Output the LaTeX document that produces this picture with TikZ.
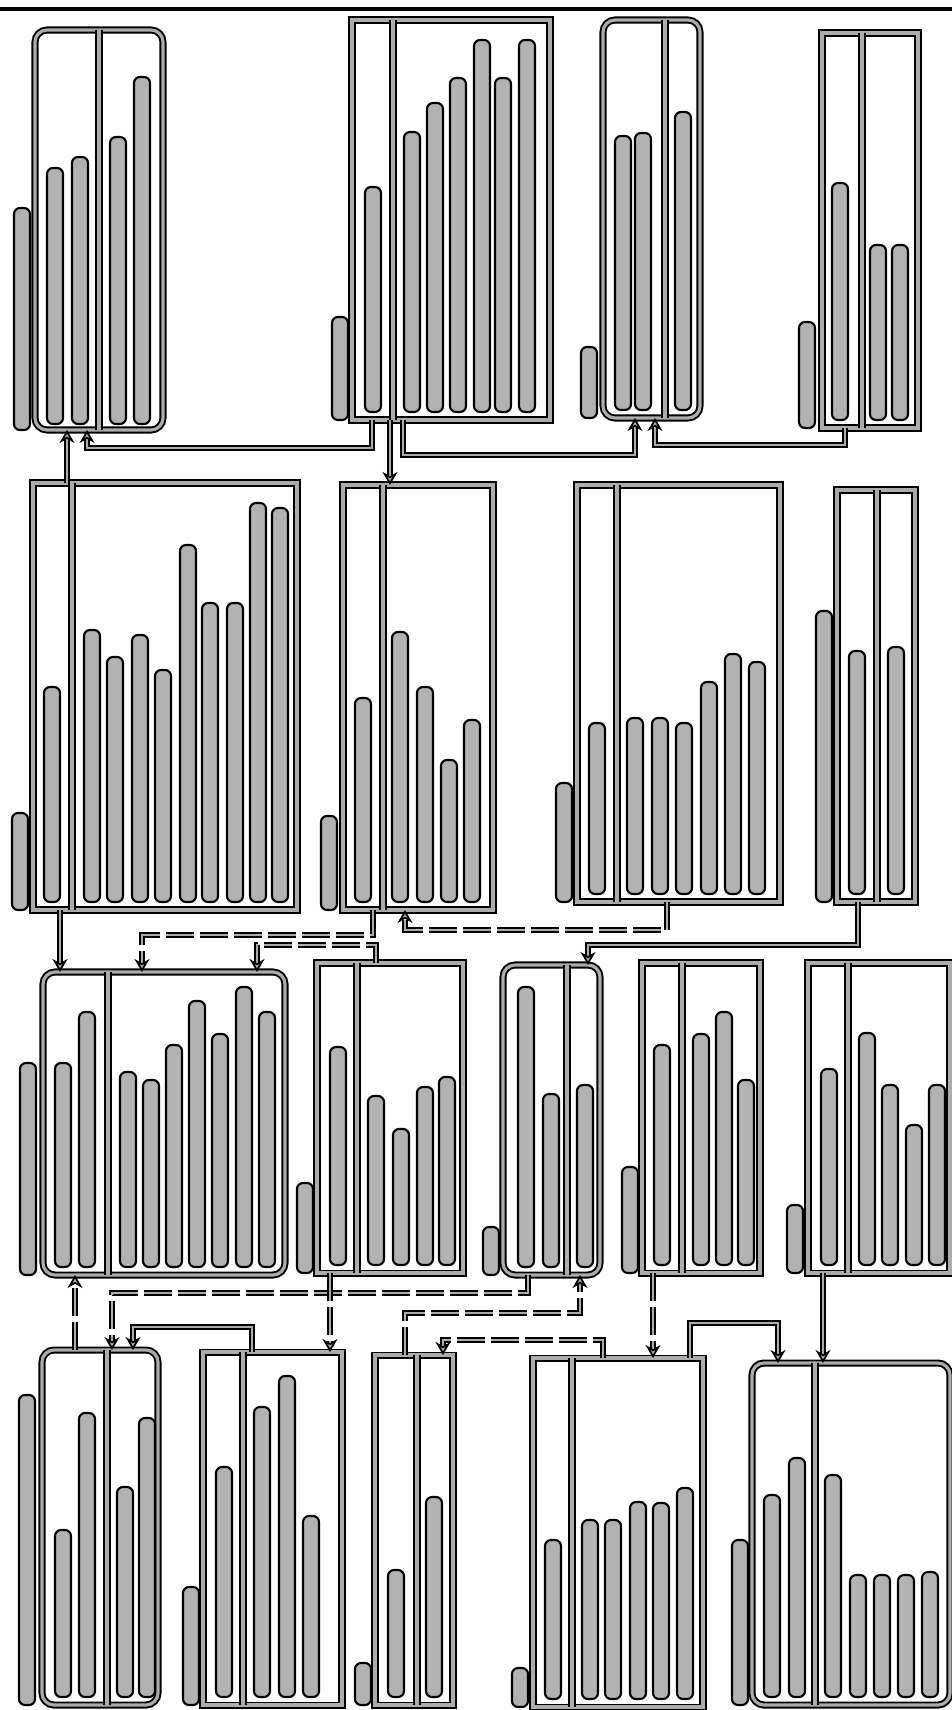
\documentclass[tikz,border=0pt]{standalone}
\usetikzlibrary{arrows.meta,fit}

\tikzset{
  cls/.style={draw=black, line width=0.55pt, double=gray!65, double distance=0.9pt, inner sep=0pt, outer sep=0pt},
  rcls/.style={cls, rounded corners=1.2mm},
  assoc/.style={draw=black, line width=0.5pt, double=gray!65, double distance=0.6pt, -{Stealth[length=1.3mm, width=1.5mm, fill=gray!65]}},
  dep/.style={assoc, dash pattern=on 2.8mm off 0.6mm},
  blob/.style={draw=black, line width=0.6pt, fill=gray!60, rounded corners=0.6mm}
}

% one rotated text line: bottom y, then x/top pairs
\newcommand{\attrs}[2]{\foreach \x/\t in {#2} \draw[blob] (\x-8,#1) rectangle (\x+8,\t);}

\begin{document}
\begin{tikzpicture}[x=0.1mm, y=-0.1mm]
  \useasboundingbox (0,0) rectangle (952,1710);
  \draw[line width=0.9pt] (0,9) -- (952,9);% top line

  %	Row 1
  \node[rcls, fit={(35,30) (163,430)}] (A) {};
  \draw[cls] (A.north -| 99,0) -- (A.south -| 99,0);
  \attrs{430}{22/208}
  \attrs{424}{55/168, 80/157, 118/137, 142/77}

  \node[cls, fit={(352,20) (550,420)}] (B) {};
  \draw[cls] (B.north -| 393,0) -- (B.south -| 393,0);
  \attrs{420}{340/317}
  \attrs{412}{373/187, 412/132, 435/103, 458/78, 482/40, 503/78, 527/40}

  \node[rcls, fit={(603,20) (700,418)}] (C) {};
  \draw[cls] (C.north -| 665,0) -- (C.south -| 665,0);
  \attrs{418}{589/347}
  \attrs{410}{623/136, 643/133, 683/112}

  \node[cls, fit={(822,33) (918,428)}] (D) {};
  \draw[cls] (D.north -| 862,0) -- (D.south -| 862,0);
  \attrs{428}{807/322}
  \attrs{420}{840/183, 878/245, 900/245}

  %	Row 2
  \node[cls, fit={(33,483) (297,910)}] (E) {};
  \draw[cls] (E.north -| 72,0) -- (E.south -| 72,0);
  \attrs{910}{20/813}
  \attrs{902}{52/687, 92/630, 115/657, 140/635, 163/670, 188/545, 210/603, 235/603, 258/503, 280/508}

  \node[cls, fit={(343,485) (493,910)}] (F) {};
  \draw[cls] (F.north -| 383,0) -- (F.south -| 383,0);
  \attrs{910}{329/816}
  \attrs{902}{363/698, 400/632, 425/687, 449/760, 472/720}

  \node[cls, fit={(577,485) (780,902)}] (G) {};
  \draw[cls] (G.north -| 617,0) -- (G.south -| 617,0);
  \attrs{902}{564/783}
  \attrs{894}{597/723, 635/718, 660/718, 684/723, 709/682, 733/654, 757/662}

  \node[cls, fit={(837,490) (915,902)}] (H) {};
  \draw[cls] (H.north -| 877,0) -- (H.south -| 877,0);
  \attrs{902}{824/611}
  \attrs{894}{857/651, 896/647}

  %	Row 3
  \node[rcls, fit={(43,972) (285,1275)}] (I) {};
  \draw[cls] (I.north -| 108,0) -- (I.south -| 108,0);
  \attrs{1275}{28/1063}
  \attrs{1267}{63/1063, 87/1012, 128/1072, 151/1080, 174/1045, 197/1001, 220/1034, 244/987, 267/1012}

  \node[cls, fit={(317,963) (463,1273)}] (J) {};
  \draw[cls] (J.north -| 357,0) -- (J.south -| 357,0);
  \attrs{1273}{305/1183}
  \attrs{1265}{338/1047, 376/1096, 401/1129, 425/1087, 447/1077}

  \node[rcls, fit={(503,965) (600,1275)}] (K) {};
  \draw[cls] (K.north -| 567,0) -- (K.south -| 567,0);
  \attrs{1275}{491/1227}
  \attrs{1267}{526/987, 551/1094, 585/1085}

  \node[cls, fit={(642,963) (760,1273)}] (L) {};
  \draw[cls] (L.north -| 682,0) -- (L.south -| 682,0);
  \attrs{1273}{630/1167}
  \attrs{1265}{662/1045, 701/1034, 724/1012, 746/1080}

  \node[cls, fit={(808,963) (950,1273)}] (M) {};
  \draw[cls] (M.north -| 848,0) -- (M.south -| 848,0);
  \attrs{1273}{795/1205}
  \attrs{1265}{829/1069, 867/1033, 890/1085, 914/1125, 937/1085}

  %	Row 4
  \node[rcls, fit={(42,1350) (158,1705)}] (N) {};
  \draw[cls] (N.north -| 107,0) -- (N.south -| 107,0);
  \attrs{1705}{27/1395}
  \attrs{1697}{63/1530, 87/1413, 125/1487, 147/1418}

  \node[cls, fit={(203,1352) (342,1705)}] (O) {};
  \draw[cls] (O.north -| 243,0) -- (O.south -| 243,0);
  \attrs{1705}{191/1587}
  \attrs{1697}{224/1467, 262/1407, 287/1376, 311/1516}

  \node[cls, fit={(375,1355) (453,1705)}] (P) {};
  \draw[cls] (P.north -| 417,0) -- (P.south -| 417,0);
  \attrs{1705}{363/1663}
  \attrs{1697}{396/1570, 434/1497}

  \node[cls, fit={(533,1358) (703,1707)}] (Q) {};
  \draw[cls] (Q.north -| 572,0) -- (Q.south -| 572,0);
  \attrs{1707}{520/1668}
  \attrs{1699}{553/1540, 590/1520, 613/1520, 638/1502, 661/1503, 685/1488}

  \node[rcls, fit={(752,1363) (950,1705)}] (R) {};
  \draw[cls] (R.north -| 815,0) -- (R.south -| 815,0);
  \attrs{1705}{740/1540}
  \attrs{1697}{772/1495, 797/1458, 833/1475, 858/1575, 882/1575, 906/1575, 930/1572}

  %	Connectors, row 1 to row 2
  \draw[assoc] (E.north -| 67,0) -- (A.south -| 67,0);
  \draw[assoc] (B.south -| 372,0) |- (87,448) -- (A.south -| 87,0);
  \draw[assoc] (B.south -| 390,0) -- (F.north -| 390,0);
  \draw[assoc] (B.south -| 403,0) |- (635,455) -- (C.south -| 635,0);
  \draw[assoc] (D.south -| 845,0) |- (655,445) -- (C.south -| 655,0);

  %	Connectors, row 2 to row 3
  \draw[assoc] (E.south -| 60,0) -- (I.north -| 60,0);
  \draw[dep] (F.south -| 373,0) |- (142,935) -- (I.north -| 142,0);
  \draw[dep] (J.north -| 376,0) |- (257,945) -- (I.north -| 257,0);
  \draw[dep] (G.south -| 667,0) |- (405,930) -- (F.south -| 405,0);
  \draw[assoc] (H.south -| 858,0) |- (588,945) -- (K.north -| 588,0);

  %	Connectors, row 3 to row 4
  \draw[dep] (N.north -| 75,0) -- (I.south -| 75,0);
  \draw[dep] (K.south -| 528,0) |- (112,1293) -- (N.north -| 112,0);
  \draw[assoc] (O.north -| 252,0) |- (133,1327) -- (N.north -| 133,0);
  \draw[dep] (J.south -| 330,0) -- (O.north -| 330,0);
  \draw[dep] (P.north -| 405,0) |- (580,1313) -- (K.south -| 580,0);
  \draw[dep] (Q.north -| 603,0) |- (443,1340) -- (P.north -| 443,0);
  \draw[dep] (L.south -| 653,0) -- (Q.north -| 653,0);
  \draw[assoc] (Q.north -| 690,0) |- (778,1323) -- (R.north -| 778,0);
  \draw[assoc] (M.south -| 823,0) -- (R.north -| 823,0);
\end{tikzpicture}
\end{document}
